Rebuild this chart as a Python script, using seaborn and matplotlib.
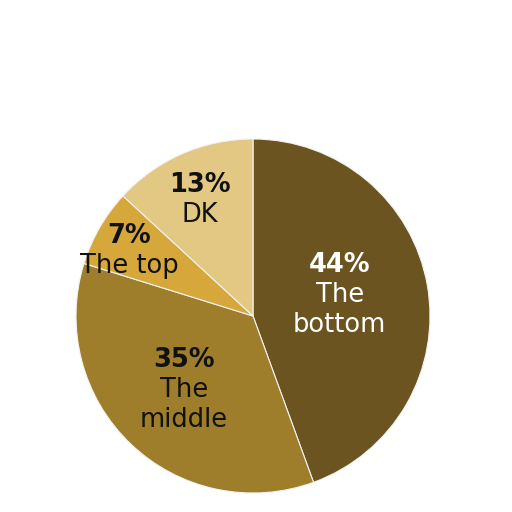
import matplotlib
matplotlib.use("Agg")
import matplotlib.pyplot as plt
import seaborn as sns

# data
categories = ["The bottom", "The middle", "The top", "DK"]
shares = [44, 35, 7, 13]
colors = ["#6b5420", "#9e7e2a", "#d6a73a", "#e3c883"]
text_colors = ["white", "#111111", "#111111", "#111111"]
pct_labels = ["44%", "35%", "7%", "13%"]
name_lines = [["The", "bottom"], ["The", "middle"], ["The top"], ["DK"]]

# layout: label anchor (x, first baseline y) in pie-radius units
label_anchor = [(0.49, 0.249), (-0.39, -0.288), (-0.70, 0.412), (-0.30, 0.70)]

sns.set_theme(style="white")
plt.rcParams["font.family"] = ["DejaVu Sans"]

fig = plt.figure(figsize=(5.12, 5.12), dpi=100)
ax = fig.add_axes([0, 0, 1, 1])

R = 177.0          # pie radius in pixels
cx, cy = 253.0, 196.0
pitch = 30.0 / R   # line pitch of labels
wedges, _ = ax.pie(shares, colors=colors, startangle=90, counterclock=False,
                   wedgeprops=dict(edgecolor="#f2f2f2", linewidth=0.8))
ax.set_xlim(-cx / R, (512 - cx) / R)
ax.set_ylim(-cy / R, (512 - cy) / R)
ax.set_aspect("equal")
ax.axis("off")

for (x, y), pct, names, c in zip(label_anchor, pct_labels, name_lines, text_colors):
    ax.text(x, y, pct, ha="center", va="baseline", color=c,
            fontsize=18.5, fontweight="bold")
    for i, line in enumerate(names, start=1):
        ax.text(x, y - i * pitch, line, ha="center", va="baseline", color=c,
                fontsize=18.5)

fig.savefig("out.png", dpi=100, facecolor="white")
